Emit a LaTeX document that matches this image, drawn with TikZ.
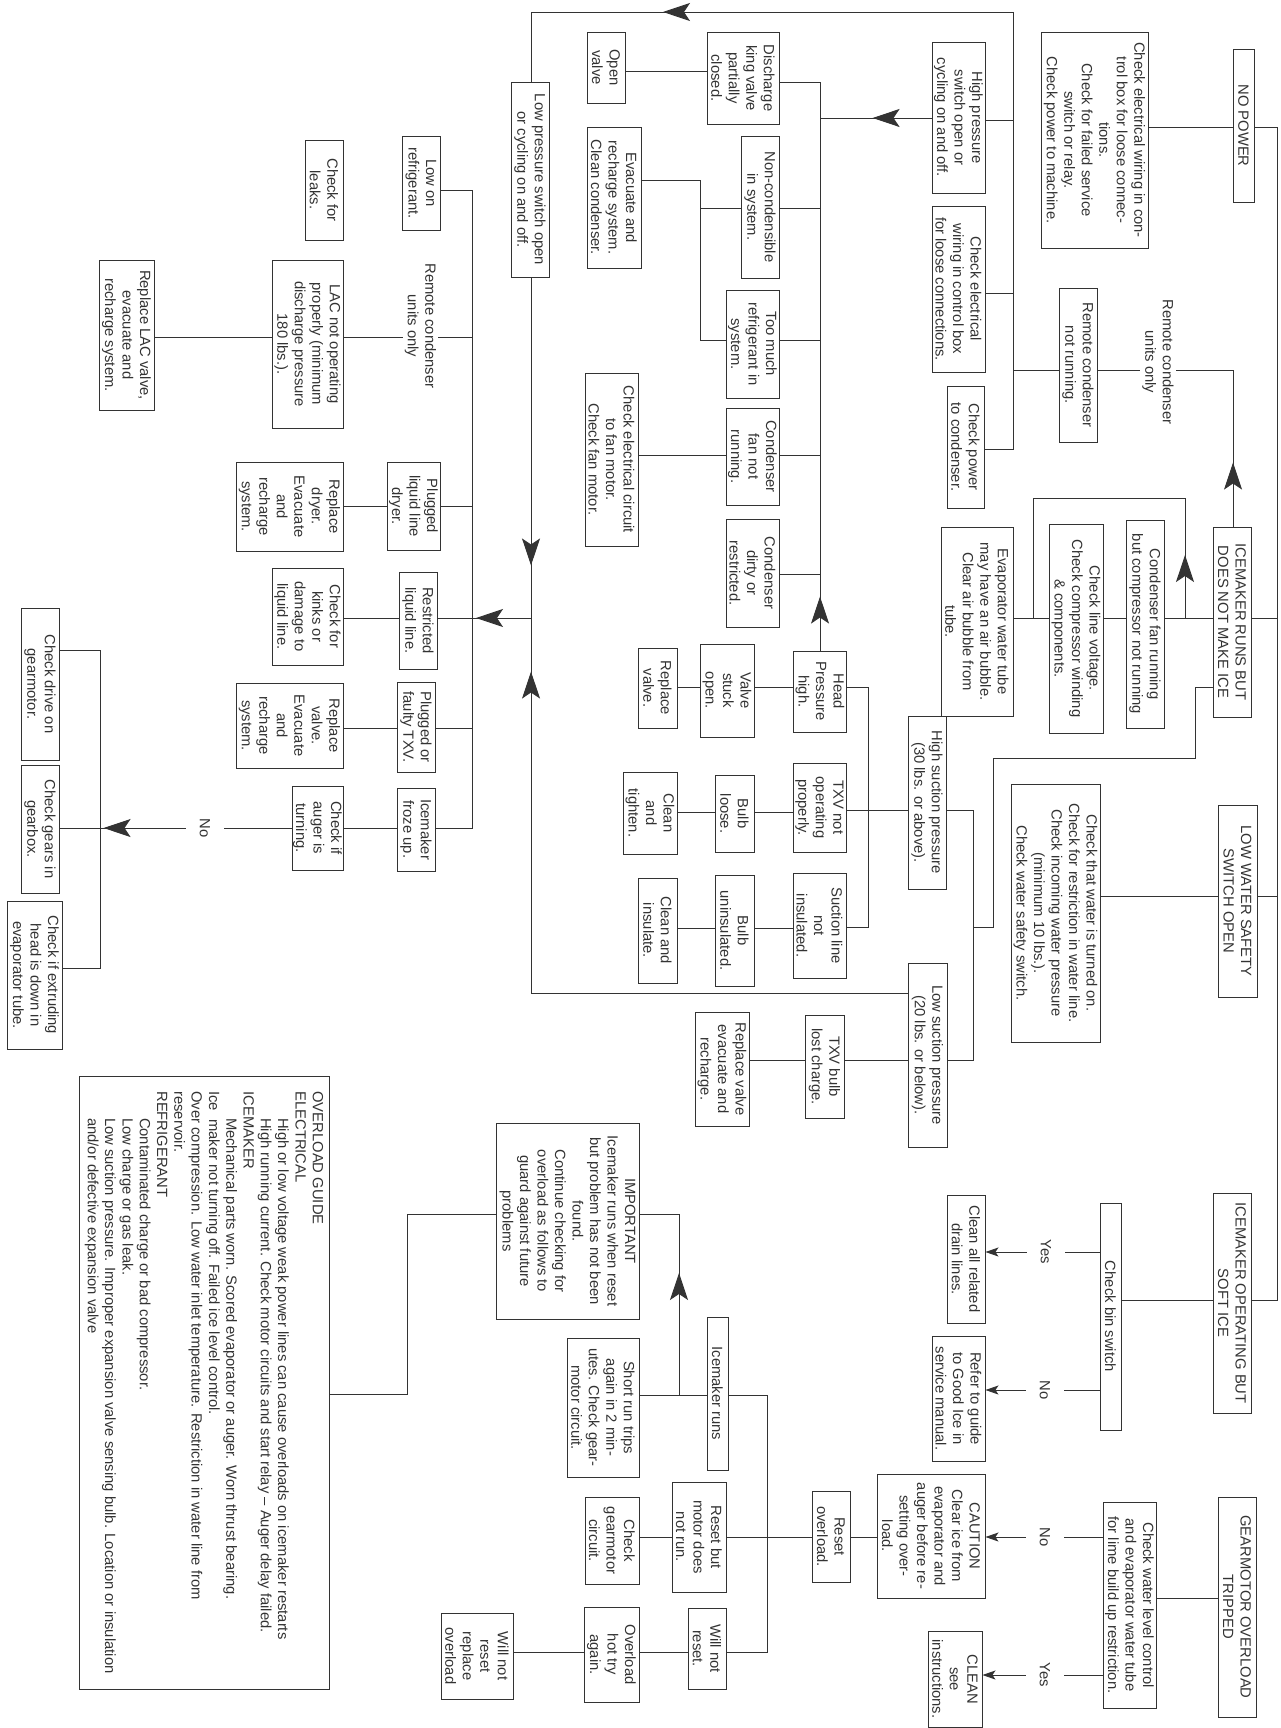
\documentclass[tikz,border=0pt]{standalone}
\usepackage{fontspec}
\setmainfont{Liberation Sans}
\usetikzlibrary{arrows.meta,decorations.markings}
\newcommand{\chartfont}{\fontsize{14.8pt}{17.5pt}\selectfont}
\newcommand{\guidefont}{\fontsize{14.8pt}{17.3pt}\selectfont}

\begin{document}
\begin{tikzpicture}[x=1pt,y=-1pt,line width=0.9pt,color=black!80,
  box/.style={draw,rotate=-90,align=center,inner xsep=3pt,inner ysep=1pt,font=\chartfont},
  lbl/.style={rotate=-90,fill=white,inner sep=1pt,minimum height=38pt,font=\chartfont},
  lbl2/.style={rotate=-90,fill=white,inner sep=2pt,align=center,font=\chartfont},
  arrowat/.style={postaction={decorate},decoration={markings,mark=at position #1 with {\arrow{Stealth[length=27pt,width=18pt,inset=6pt]}}}},
  smalltip/.style={-{Stealth[length=13pt,width=9pt,inset=3pt]}}]
  \useasboundingbox (0,0) rectangle (1280,1728);

  \node[box,minimum width=153pt,minimum height=21pt] (nopower) at (1243.5,125.5) {NO POWER};
  \node[box,minimum width=190pt,minimum height=38pt] (runs) at (1232,622) {ICEMAKER RUNS BUT\\DOES NOT MAKE ICE};
  \node[box,minimum width=192pt,minimum height=39pt] (lowwater) at (1237.5,901) {LOW WATER SAFETY\\SWITCH OPEN};
  \node[box,minimum width=220pt,minimum height=38pt] (softice) at (1232,1303) {ICEMAKER OPERATING BUT\\SOFT ICE};
  \node[box,minimum width=220pt,minimum height=38pt] (gearmotor) at (1237,1607) {GEARMOTOR OVERLOAD\\TRIPPED};

  \node[box,minimum width=216pt,minimum height=107pt] (elecwiring) at (1094.5,140) {Check electrical wiring in con-\\trol box for loose connec-\\tions.\\Check for failed service\\switch or relay.\\Check power to machine.};
  \node[box,minimum width=154pt,minimum height=38pt] (remnotrun) at (1078,365) {Remote condenser\\not running.};
  \node[box,minimum width=151pt,minimum height=53pt] (hps) at (958.5,117.5) {High pressure\\switch open or\\cycling on and off.};
  \node[box,minimum width=166pt,minimum height=53pt] (cewcb) at (958.5,289) {Check electrical\\wiring in control box\\for loose connections.};
  \node[box,minimum width=122pt,minimum height=37pt] (cpc) at (965.5,447) {Check power\\to condenser.};
  \node[box,minimum width=195pt,minimum height=38pt] (lps) at (530,179.5) {Low pressure switch open\\or cycling on and off.};

  \node[box,minimum width=92pt,minimum height=72pt] (discharge) at (743,78) {Discharge\\king valve\\partially\\closed.};
  \node[box,minimum width=71pt,minimum height=38pt] (openvalve) at (606,67.5) {Open\\valve};
  \node[box,minimum width=142pt,minimum height=38pt] (noncond) at (760,207) {Non-condensible\\in system.};
  \node[box,minimum width=108pt,minimum height=53pt] (toomuch) at (752.5,344) {Too much\\refrigerant in\\system.};
  \node[box,minimum width=141pt,minimum height=54pt] (evacclean) at (614,197.5) {Evacuate and\\recharge system.\\Clean condenser.};
  \node[box,minimum width=97pt,minimum height=53pt] (fannotrun) at (752.5,456.5) {Condenser\\fan not\\running.};
  \node[box,minimum width=173pt,minimum height=53pt] (checkcirc) at (611.5,459.5) {Check electrical circuit\\to fan motor.\\Check fan motor.};
  \node[box,minimum width=108pt,minimum height=53pt] (dirty) at (752.5,573) {Condenser\\dirty or\\restricted.};

  \node[box,minimum width=81pt,minimum height=53pt] (headp) at (820,691.5) {Head\\Pressure\\high.};
  \node[box,minimum width=93pt,minimum height=54pt] (stuck) at (727,690.5) {Valve\\stuck\\open.};
  \node[box,minimum width=80pt,minimum height=39pt] (replvalve) at (657.5,688) {Replace\\valve.};
  \node[box,minimum width=89pt,minimum height=53pt] (txvnot) at (819.5,807.5) {TXV not\\operating\\properly.};
  \node[box,minimum width=77pt,minimum height=39pt] (bulbloose) at (734.5,813.5) {Bulb\\loose.};
  \node[box,minimum width=82pt,minimum height=54pt] (tighten) at (650,813) {Clean\\and\\tighten.};
  \node[box,minimum width=105pt,minimum height=53pt] (suction) at (819.5,925.5) {Suction line\\not\\insulated.};
  \node[box,minimum width=111pt,minimum height=39pt] (bulbunins) at (734.5,930.5) {Bulb\\uninsulated.};
  \node[box,minimum width=105pt,minimum height=39pt] (insulate) at (657.5,930.5) {Clean and\\insulate.};

  \node[box,minimum width=173pt,minimum height=38pt] (highsuc) at (927,802.5) {High suction pressure\\(30 lbs. or above).};
  \node[box,minimum width=189pt,minimum height=72pt] (evapbub) at (977,621.5) {Evaporator water tube\\may have an air bubble.\\Clear air bubble from\\tube.};
  \node[box,minimum width=209pt,minimum height=54pt] (linevolt) at (1076,628.5) {Check line voltage.\\Check compressor winding\\\& components.};
  \node[box,minimum width=208pt,minimum height=38pt] (fanrun) at (1145,624) {Condenser fan running\\but compressor not running};
  \node[box,minimum width=184pt,minimum height=39pt] (lowsuc) at (927.5,1055) {Low suction pressure\\(20 lbs. or below).};
  \node[box,minimum width=103pt,minimum height=39pt] (txvbulb) at (824.5,1066.5) {TXV bulb\\lost charge.};
  \node[box,minimum width=114pt,minimum height=54pt] (replevac) at (722,1069) {Replace valve\\evacuate and\\recharge.};

  \node[box,minimum width=94pt,minimum height=38pt] (lowref) at (421,183) {Low on\\refrigerant.};
  \node[box,minimum width=100pt,minimum height=38pt] (leaks) at (324,190) {Check for\\leaks.};
  \node[box,minimum width=168pt,minimum height=71pt] (lac) at (307.5,344) {LAC not operating\\properly (minimum\\discharge pressure\\180 lbs.).};
  \node[box,minimum width=150pt,minimum height=55pt] (repllac) at (126.5,335) {Replace LAC valve,\\evacuate and\\recharge system.};
  \node[box,minimum width=88pt,minimum height=53pt] (plugdry) at (413.5,506) {Plugged\\liquid line\\dryer.};
  \node[box,minimum width=89pt,minimum height=107pt] (repldry) at (289.5,506.5) {Replace\\dryer.\\Evacuate\\and\\recharge\\system.};
  \node[box,minimum width=97pt,minimum height=38pt] (restr) at (418,620.5) {Restricted\\liquid line.};
  \node[box,minimum width=97pt,minimum height=71pt] (kinks) at (307.5,616.5) {Check for\\kinks or\\damage to\\liquid line.};
  \node[box,minimum width=90pt,minimum height=38pt] (plugtxv) at (416,727) {Plugged or\\faulty TXV.};
  \node[box,minimum width=85pt,minimum height=107pt] (replvalve2) at (289.5,725.5) {Replace\\valve.\\Evacuate\\and\\recharge\\system.};
  \node[box,minimum width=83pt,minimum height=38pt] (froze) at (416,829.5) {Icemaker\\froze up.};
  \node[box,minimum width=84pt,minimum height=51pt] (auger) at (317.5,828) {Check if\\auger is\\turning.};
  \node[box,minimum width=152pt,minimum height=38pt] (drive) at (40,684) {Check drive on\\gearmotor.};
  \node[box,minimum width=128pt,minimum height=38pt] (gears) at (40,829) {Check gears in\\gearbox.};
  \node[box,minimum width=148pt,minimum height=55pt] (extrude) at (34.5,975) {Check if extruding\\head is down in\\evaporator tube.};

  \node[box,align=left,font=\guidefont,minimum width=613pt,minimum height=250pt] (guide) at (204,1382.5) {OVERLOAD GUIDE\\ELECTRICAL\\\hspace*{1.8em}High or low voltage weak power lines can cause overloads on icemaker restarts\\\hspace*{1.8em}High running current. Check motor circuits and start relay -- Auger delay failed.\\ICEMAKER\\\hspace*{1.8em}Mechanical parts worn. Scored evaporator or auger. Worn thrust bearing.\\Ice\ \ maker not turning off. Failed ice level control.\\Over compression. Low water inlet temperature. Restriction in water line from\\reservoir.\\REFRIGERANT\\\hspace*{1.8em}Contaminated charge or bad compressor.\\\hspace*{1.8em}Low charge or gas leak.\\\hspace*{1.8em}Low suction pressure. Improper expansion valve sensing bulb. Location or insulation\\\hspace*{1.8em}and/or defective expansion valve};
  \node[box,minimum width=196pt,minimum height=143pt] (important) at (567.5,1221) {IMPORTANT\\Icemaker runs when reset\\but problem has not been\\found.\\Continue checking for\\overload as follows to\\guard against future\\problems};
  \node[box,minimum width=153pt,minimum height=21pt] (icemruns) at (717.5,1393.5) {Icemaker runs};
  \node[box,minimum width=139pt,minimum height=72pt] (shortrun) at (603,1407.5) {Short run trips\\again in 2 min-\\utes. Check gear-\\motor circuit.};
  \node[box,minimum width=110pt,minimum height=54pt] (resetnot) at (699,1537) {Reset but\\motor does\\not run.};
  \node[box,minimum width=87pt,minimum height=54pt] (checkgm) at (612,1540.5) {Check\\gearmotor\\circuit.};
  \node[box,minimum width=81pt,minimum height=38pt] (willnot) at (707,1648.5) {Will not\\reset.};
  \node[box,minimum width=95pt,minimum height=55pt] (hottry) at (611.5,1654.5) {Overload\\hot try\\again.};
  \node[box,minimum width=86pt,minimum height=72pt] (replol) at (477,1656) {Will not\\reset\\replace\\overload};
  \node[box,minimum width=91pt,minimum height=38pt] (resetol) at (831,1536.5) {Reset\\overload.};
  \node[box,minimum width=124pt,minimum height=108pt] (caution) at (931,1536) {CAUTION\\Clear ice from\\evaporator and\\auger before re-\\setting over-\\load.};
  \node[box,minimum width=206pt,minimum height=53pt] (waterlevel) at (1129.5,1605) {Check water level control\\and evaporator water tube\\for lime build up restriction.};
  \node[box,minimum width=96pt,minimum height=54pt] (clean) at (955,1679) {CLEAN\\see\\instructions.};
  \node[box,minimum width=227pt,minimum height=21pt] (binswitch) at (1110.5,1316.5) {Check bin switch};
  \node[box,minimum width=128pt,minimum height=38pt] (drain) at (966,1259) {Clean all related\\drain lines.};
  \node[box,minimum width=125pt,minimum height=53pt] (refer) at (958.5,1398.5) {Refer to guide\\to Good Ice in\\service manual.};
  \node[box,minimum width=258pt,minimum height=89pt] (lwcheck) at (1055.5,913) {Check that water is turned on.\\Check for restriction in water line.\\Check incoming water pressure\\(minimum 10 lbs.).\\Check water safety switch.};

  \coordinate (tr1) at (1277,127);
  \coordinate (tr2) at (1277,1300);
  \coordinate (tr618) at (1277,618);
  \coordinate (tr896) at (1277,896);
  \draw (nopower.north |- tr1) -- (tr1) -- (tr2) -- (softice.north |- tr2);
  \draw (runs.north |- tr618) -- (tr618);
  \draw (lowwater.north |- tr896) -- (tr896);
  \draw (nopower.south |- 0,127) -- (elecwiring.north |- 0,127);
  \draw (lowwater.south |- 0,896) -- (lwcheck.north |- 0,896);
  \draw (softice.south |- 0,1300) -- (binswitch.north |- 0,1300);
  \draw (gearmotor.south |- 0,1598) -- (waterlevel.north |- 0,1598);

  \draw[smalltip] (binswitch.south |- 0,1252) -- (drain.north |- 0,1252);
  \node[lbl] (yes1) at (1046,1252) {Yes};
  \draw[smalltip] (binswitch.south |- 0,1390) -- (refer.north |- 0,1390);
  \node[lbl] (no2) at (1045,1390) {No};
  \draw[smalltip] (waterlevel.south |- 0,1537) -- (caution.north |- 0,1537);
  \node[lbl] (no3) at (1045,1537) {No};
  \draw[smalltip] (waterlevel.south |- 0,1675) -- (clean.north |- 0,1675);
  \node[lbl] (yes2) at (1045,1675) {Yes};

  \coordinate (rb1) at (767,1395);
  \coordinate (rb2) at (767,1652);
  \draw (caution.south |- 0,1537) -- (resetol.north |- 0,1537);
  \draw (resetol.south |- 0,1537) -- (resetnot.north |- 0,1537);
  \draw (icemruns.north |- rb1) -- (rb1) -- (rb2) -- (willnot.north |- rb2);
  \draw (resetnot.south |- 0,1537) -- (checkgm.north |- 0,1537);
  \draw (willnot.south |- 0,1652) -- (hottry.north |- 0,1652);
  \draw (hottry.south |- 0,1652) -- (replol.north |- 0,1652);
  \draw (icemruns.south |- 0,1395) -- (shortrun.north |- 0,1395);
  \coordinate (ib1) at (679,1395);
  \coordinate (ib2) at (679,1214);
  \draw[arrowat=122pt] (ib1) -- (ib2) -- (important.north |- ib2);
  \coordinate (gb1) at (407,1214);
  \coordinate (gb2) at (407,1394);
  \draw (important.south |- gb1) -- (gb1) -- (gb2) -- (guide.north |- gb2);

  \coordinate (rc1) at (1233,370);
  \draw[arrowat=64pt] (runs.west -| rc1) -- (rc1) -- (remnotrun.north |- rc1);
  \node[lbl2] (remote1) at (1158,362) {Remote condenser\\units only};
  \coordinate (hb1) at (1013,12);
  \coordinate (hb2) at (1013,449);
  \coordinate (hb3) at (1013,370);
  \coordinate (hb4) at (1013,120);
  \coordinate (hb5) at (1013,293);
  \draw (remnotrun.south |- hb3) -- (hb3);
  \draw (hps.north |- hb4) -- (hb4);
  \draw (cewcb.north |- hb5) -- (hb5);
  \draw (hb1) -- (hb2) -- (cpc.north |- hb2);
  \coordinate (lp1) at (531,12);
  \draw[arrowat=350pt] (hb1) -- (lp1) -- (lps.west -| lp1);
  \coordinate (hp1) at (820,118);
  \draw[arrowat=59pt] (hps.south |- hp1) -- (hp1);

  \coordinate (hq1) at (820,82);
  \coordinate (hq2) at (820,208);
  \coordinate (hq3) at (820,340);
  \coordinate (hq4) at (820,455);
  \coordinate (hq5) at (820,574);
  \draw[arrowat=54pt] (headp.west -| hq1) -- (hq1);
  \draw (discharge.north |- hq1) -- (hq1);
  \draw (noncond.north |- hq2) -- (hq2);
  \draw (toomuch.north |- hq3) -- (hq3);
  \draw (fannotrun.north |- hq4) -- (hq4);
  \draw (dirty.north |- hq5) -- (hq5);
  \draw (discharge.south |- 0,71) -- (openvalve.north |- 0,71);
  \coordinate (nc1) at (700,208);
  \coordinate (nc2) at (700,180);
  \coordinate (nc3) at (700,340);
  \draw (noncond.south |- nc1) -- (nc1);
  \draw (toomuch.south |- nc3) -- (nc3) -- (nc2) -- (evacclean.north |- nc2);
  \draw (fannotrun.south |- 0,455) -- (checkcirc.north |- 0,455);

  \draw (headp.south |- 0,687) -- (stuck.north |- 0,687);
  \draw (stuck.south |- 0,687) -- (replvalve.north |- 0,687);
  \draw (txvnot.south |- 0,812) -- (bulbloose.north |- 0,812);
  \draw (bulbloose.south |- 0,812) -- (tighten.north |- 0,812);
  \draw (suction.south |- 0,928) -- (bulbunins.north |- 0,928);
  \draw (bulbunins.south |- 0,928) -- (insulate.north |- 0,928);
  \coordinate (sb1) at (868,687);
  \coordinate (sb2) at (868,810);
  \coordinate (sb3) at (868,927);
  \draw (headp.north |- sb1) -- (sb1) -- (sb3) -- (suction.north |- sb3);
  \draw (txvnot.north |- sb2) -- (highsuc.south |- sb2);
  \coordinate (ls1) at (973,810);
  \coordinate (ls2) at (973,1060);
  \coordinate (ls3) at (973,927);
  \draw (highsuc.north |- ls1) -- (ls1) -- (ls2) -- (lowsuc.north |- ls2);
  \coordinate (rr1) at (1195,687);
  \coordinate (rr2) at (1195,758);
  \coordinate (rr3) at (993,758);
  \draw (runs.south |- rr1) -- (rr1) -- (rr2) -- (rr3) -- (rr3 |- ls3) -- (ls3);

  \draw (runs.south |- 0,618) -- (fanrun.north |- 0,618);
  \draw (fanrun.south |- 0,618) -- (linevolt.north |- 0,618);
  \draw (linevolt.south |- 0,618) -- (evapbub.north |- 0,618);
  \coordinate (bp1) at (1185,618);
  \coordinate (bp2) at (1185,498);
  \coordinate (bp3) at (1033,498);
  \coordinate (bp4) at (1033,618);
  \draw[arrowat=63pt] (bp1) -- (bp2) -- (bp3) -- (bp4);

  \coordinate (lb1) at (531,993);
  \coordinate (lb2) at (531,618);
  \draw[arrowat=698pt] (lowsuc.south |- lb1) -- (lb1) -- (lb2);
  \draw[arrowat=288pt] (lps.east -| lb2) -- (lb2);
  \coordinate (rf0) at (472,618);
  \draw[arrowat=55pt] (lb2) -- (rf0);
  \draw (restr.north |- rf0) -- (rf0);
  \draw (lowsuc.south |- 0,1060) -- (txvbulb.north |- 0,1060);
  \draw (txvbulb.south |- 0,1060) -- (replevac.north |- 0,1060);

  \coordinate (rf1) at (472,190);
  \coordinate (rf2) at (472,337);
  \coordinate (rf3) at (472,506);
  \coordinate (rf4) at (472,728);
  \coordinate (rf5) at (472,828);
  \draw (lowref.north |- rf1) -- (rf1) -- (rf5) -- (froze.north |- rf5);
  \draw (lac.north |- rf2) -- (rf2);
  \node[lbl2] (remote2) at (420.5,326) {Remote condenser\\units only};
  \draw (plugdry.north |- rf3) -- (rf3);
  \draw (plugtxv.north |- rf4) -- (rf4);
  \draw (lac.south |- 0,337) -- (repllac.north |- 0,337);
  \draw (plugdry.south |- 0,506) -- (repldry.north |- 0,506);
  \draw (restr.south |- 0,618) -- (kinks.north |- 0,618);
  \draw (plugtxv.south |- 0,728) -- (replvalve2.north |- 0,728);
  \draw (froze.south |- 0,828) -- (auger.north |- 0,828);
  \coordinate (gb0) at (100,828);
  \draw[arrowat=188pt] (auger.south |- gb0) -- (gb0);
  \node[lbl] (no1) at (205,828) {No};
  \coordinate (gm1) at (100,650);
  \coordinate (gm2) at (100,968);
  \draw (drive.north |- gm1) -- (gm1) -- (gm2) -- (extrude.north |- gm2);
  \draw (gb0) -- (gears.north |- gb0);
\end{tikzpicture}
\end{document}
